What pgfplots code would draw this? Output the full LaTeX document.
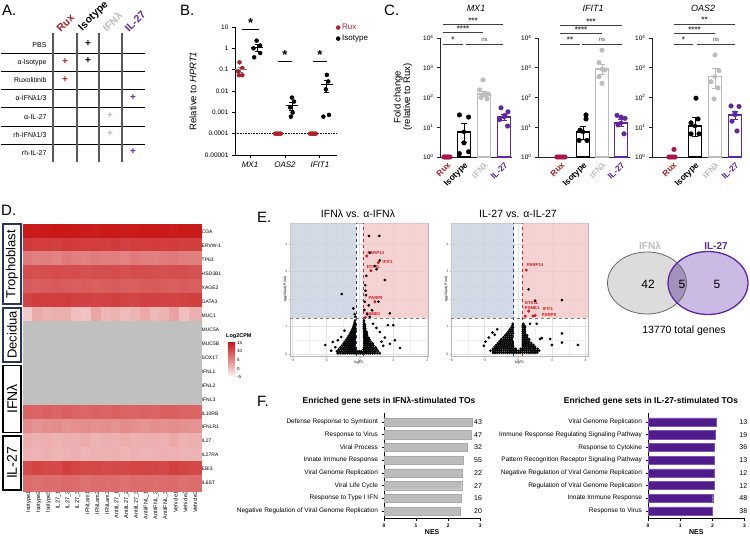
\documentclass[border=0pt]{standalone}
\usepackage{pgfplots}
\usepackage{pgfplotstable}
\pgfplotsset{compat=1.18}
\usepackage{fontspec}
\setmainfont{Liberation Sans}
\newcommand\fsz[1]{\fontsize{#1}{#1}\selectfont}

\definecolor{rux}{RGB}{178,30,40}
\definecolor{ruxc}{RGB}{168,22,72}
\definecolor{ifn}{RGB}{188,188,188}
\definecolor{ilp}{RGB}{95,40,160}
\definecolor{ilbar}{RGB}{80,28,140}
\definecolor{navy}{RGB}{40,52,88}
\definecolor{vblue}{RGB}{200,209,224}
\definecolor{vred}{RGB}{243,200,200}
\definecolor{dblue}{RGB}{40,70,150}
\definecolor{dred}{RGB}{215,35,35}
\definecolor{gene}{RGB}{205,25,25}
\definecolor{vgrey}{RGB}{220,220,220}
\definecolor{vpurp}{RGB}{202,186,228}
\definecolor{vover}{RGB}{163,146,188}

% log2 CPM per gene (rows) and sample (columns); -20 marks genes not detected
\pgfplotstableread{
c0 c1 c2 c3 c4 c5 c6 c7 c8 c9 c10 c11 c12 c13 c14 c15 c16 c17
14.6 14.3 14.5 14.8 14.7 14.6 14.4 14.2 14.5 14.6 14.3 14.4 14.7 14.5 14.6 14.3 14.5 14.4
11.8 11.5 11.6 11.3 11.9 11.7 11.4 11.6 11.5 11.8 11.2 11.6 11.5 11.7 11.4 11.6 11.3 11.5
6.3 5.8 6.1 5.5 6.4 6.0 5.7 6.2 5.9 6.1 5.6 6.3 6.0 5.8 6.2 6.5 5.9 6.0
10.2 9.9 10.1 10.3 10.0 10.2 9.8 10.1 10.0 10.3 9.9 10.2 10.1 10.0 9.9 10.2 10.1 9.8
9.0 8.7 8.9 9.1 8.8 8.6 8.9 8.5 8.8 9.0 8.7 8.6 8.9 9.1 8.8 8.7 8.9 8.6
11.0 11.6 11.4 11.5 11.7 11.2 11.1 10.9 11.0 11.3 11.0 10.8 11.1 11.2 11.0 10.9 11.1 11.3
-0.5 2.2 1.5 1.8 2.0 0.5 0.2 2.6 1.2 1.6 0.8 1.4 2.3 1.0 1.5 3.0 0.4 1.9
-20 -20 -20 -20 -20 -20 -20 -20 -20 -20 -20 -20 -20 -20 -20 -20 -20 -20
-20 -20 -20 -20 -20 -20 -20 -20 -20 -20 -20 -20 -20 -20 -20 -20 -20 -20
-20 -20 -20 -20 -20 -20 -20 -20 -20 -20 -20 -20 -20 -20 -20 -20 -20 -20
-20 -20 -20 -20 -20 -20 -20 -20 -20 -20 -20 -20 -20 -20 -20 -20 -20 -20
-20 -20 -20 -20 -20 -20 -20 -20 -20 -20 -20 -20 -20 -20 -20 -20 -20 -20
-20 -20 -20 -20 -20 -20 -20 -20 -20 -20 -20 -20 -20 -20 -20 -20 -20 -20
8.4 8.2 8.5 8.1 8.6 8.3 8.0 8.4 8.2 8.5 8.3 8.1 8.4 8.2 8.6 8.5 8.3 8.2
4.8 4.3 4.6 4.9 4.2 4.5 4.7 4.4 4.6 4.3 4.8 4.5 4.2 4.6 4.4 4.7 4.5 4.3
2.0 1.6 1.9 1.5 1.8 1.7 2.1 1.4 1.8 1.6 2.0 1.5 1.7 1.9 1.6 2.3 1.5 1.8
1.6 1.4 1.7 1.3 1.5 1.8 1.4 1.6 1.5 1.7 1.3 1.6 1.4 1.5 1.7 1.6 1.4 1.5
10.4 10.9 10.6 10.5 11.4 10.8 10.6 10.7 10.4 10.5 10.6 10.8 10.9 10.7 10.5 11.3 10.8 10.6
7.6 7.2 7.5 7.3 7.8 7.4 7.1 7.5 7.3 7.6 7.2 7.4 7.5 7.3 7.6 7.7 7.2 7.4
}\heatdata

\begin{document}
\begin{tikzpicture}
\path[use as bounding box] (0pt,0pt) rectangle (750pt,-539pt);

% ---------------- A: treatment layout ----------------
\begin{scope}[x=1pt,y=-1pt]
\node[anchor=north west, font=\fsz{15}, inner sep=0] at (2,5) {A.};
\foreach \yy in {53,71,89,107,126,144} \draw[line width=0.7pt] (1,\yy) -- (145,\yy);
\foreach \xx in {53,77,99,122} \draw[line width=1.2pt, black!65] (\xx,33) -- (\xx,162);
\node[anchor=east, font=\fsz{7}] at (50,45) {PBS};
\node[anchor=east, font=\fsz{7}] at (50,63) {α-Isotype};
\node[anchor=east, font=\fsz{7}] at (50,80) {Ruxolitinib};
\node[anchor=east, font=\fsz{7}] at (50,98) {α-IFNλ1/3};
\node[anchor=east, font=\fsz{7}] at (50,117) {α-IL-27};
\node[anchor=east, font=\fsz{7}] at (50,135) {rh-IFNλ1/3};
\node[anchor=east, font=\fsz{7}] at (50,153) {rh-IL-27};
\node[rotate=45, anchor=south west, font=\fsz{10.5}\bfseries, text=rux, inner sep=0] at (61,33) {Rux};
\node[rotate=45, anchor=south west, font=\fsz{10.5}\bfseries, inner sep=0] at (84,33) {Isotype};
\node[rotate=45, anchor=south west, font=\fsz{10.5}\bfseries, text=ifn, inner sep=0] at (107,33) {IFNλ};
\node[rotate=45, anchor=south west, font=\fsz{10.5}\bfseries, text=ilp, inner sep=0] at (129,33) {IL-27};
\foreach \xx/\yy/\cc in {88/44/black, 65/62/rux, 88/61/black, 65/80/rux, 133/98/ilp, 110/116/ifn, 110/134/ifn, 133/152/ilp}
  \node[font=\fsz{10}\bfseries, text=\cc, inner sep=0] at (\xx,\yy) {+};

% panel letters
\node[anchor=north west, font=\fsz{15}, inner sep=0] at (180,5) {B.};
\node[anchor=north west, font=\fsz{15}, inner sep=0] at (384,5) {C.};
\node[anchor=north west, font=\fsz{15}, inner sep=0] at (1,205) {D.};
\node[anchor=north west, font=\fsz{15}, inner sep=0] at (257,212) {E.};
\node[anchor=north west, font=\fsz{15}, inner sep=0] at (257,396) {F.};

% axis titles set outside the axes
\node[rotate=90, font=\fsz{9.5}] at (193,91) {Relative to \textit{HPRT1}};
\node[rotate=90, font=\fsz{9.5}, align=center] at (403,97) {Fold change\\(relative to Rux)};
\node[font=\fsz{9}\itshape] at (476,8) {MX1};
\node[font=\fsz{9}\itshape] at (593,8) {IFIT1};
\node[font=\fsz{9}\itshape] at (703,8) {OAS2};
\node[font=\fsz{10.5}] at (358,214) {IFNλ vs. α-IFNλ};
\node[font=\fsz{10.5}] at (518,214) {IL-27 vs. α-IL-27};
\node[font=\fsz{8.5}\bfseries] at (389,401) {Enriched gene sets in IFNλ-stimulated TOs};
\node[font=\fsz{8.5}\bfseries] at (651,401) {Enriched gene sets in IL-27-stimulated TOs};

% D: group boxes
\node[draw=navy, line width=1.3pt, minimum width=18pt, minimum height=80pt, inner sep=0] at (12,264) {};
\node[rotate=90, font=\fsz{13}] at (12,264) {Trophoblast};
\node[draw=navy, line width=1.3pt, minimum width=18pt, minimum height=54pt, inner sep=0] at (12,335) {};
\node[rotate=90, font=\fsz{13}] at (12,335) {Decidua};
\node[draw=black, line width=1.3pt, minimum width=18pt, minimum height=67pt, inner sep=0] at (12,399) {};
\node[rotate=90, font=\fsz{14}] at (12,399) {IFNλ};
\node[draw=black, line width=1.3pt, minimum width=18pt, minimum height=54pt, inner sep=0] at (12,463) {};
\node[rotate=90, font=\fsz{14}] at (12,463) {IL-27};

% D: colour key
\node[anchor=west, font=\fsz{5.5}\bfseries, inner sep=0] at (226,336) {Log2CPM};
\shade[bottom color=white, top color={rgb,255:red,200;green,20;blue,20}] (228,342) rectangle (235,378);
\foreach \vv/\yy in {15/343,10/351,5/360,0/369,-5/377}
  \node[anchor=west, font=\fsz{4.5}, inner sep=0] at (237,\yy) {\vv};

% E: Venn diagram of responsive genes
\fill[vgrey] (647,283) ellipse (39.5pt and 31pt);
\fill[vpurp] (708,283) ellipse (40pt and 31.5pt);
\begin{scope}
  \clip (647,283) ellipse (39.5pt and 31pt);
  \fill[vover] (708,283) ellipse (40pt and 31.5pt);
\end{scope}
\draw[gray!80!black, line width=0.8pt] (647,283) ellipse (39.5pt and 31pt);
\draw[ilp, line width=1.3pt] (708,283) ellipse (40pt and 31.5pt);
\node[font=\fsz{12}] at (648,284) {42};
\node[font=\fsz{12}] at (682,284) {5};
\node[font=\fsz{12}] at (717,284) {5};
\node[font=\fsz{10}\bfseries, text=ifn] at (650,246) {IFNλ};
\node[font=\fsz{10}\bfseries, text=ilp] at (716,246) {IL-27};
\node[font=\fsz{10.5}] at (684,331) {13770 total genes};
\end{scope}

% ---------------- B: qPCR ----------------
\begin{axis}[at={(235pt,-155pt)}, anchor=south west, scale only axis, width=102pt, height=128pt,
  ymode=log, ymin=1e-5, ymax=10, xmin=-0.43, xmax=2.49,
  axis x line*=bottom, axis y line*=left, axis line style={line width=0.9pt},
  xtick={0,1,2}, xticklabels={MX1,OAS2,IFIT1}, xticklabel style={font=\fsz{8}\itshape},
  ytick={1e-5,1e-4,1e-3,1e-2,1e-1,1,10}, yticklabels={0.00001,0.0001,0.001,0.01,0.1,1,10},
  yticklabel style={font=\fsz{6.5}}, yminorticks=false,
  tick align=outside, major tick length=3pt, tick style={line width=0.8pt, black},
  legend style={at={(axis description cs:0.99,1.04)}, anchor=north west, draw=none, fill=none,
    font=\fsz{8}, inner sep=0pt, row sep=0pt}, legend cell align=left,
  clip=false]
\addplot[only marks, mark=*, mark size=2pt, rux] coordinates {(-0.3,0.22) (-0.22,0.12) (-0.34,0.085) (-0.32,0.055) (-0.22,0.055)};
\addlegendentry{\textcolor{rux}{Rux}}
\addplot[only marks, mark=*, mark size=2pt, black] coordinates {(0.19,2.3) (0.29,1.35) (0.1,1.0) (0.29,0.6) (0.12,0.38)};
\addlegendentry{Isotype}
\addplot[densely dotted, line width=0.6pt, forget plot] coordinates {(-0.43,1e-4) (2.49,1e-4)};
\addplot[only marks, mark=*, mark size=2pt, rux, forget plot] coordinates {(0.72,1e-4) (0.76,1e-4) (0.8,1e-4) (0.84,1e-4) (0.88,1e-4)};
\addplot[only marks, mark=*, mark size=2pt, rux, forget plot] coordinates {(1.72,1e-4) (1.76,1e-4) (1.8,1e-4) (1.84,1e-4) (1.88,1e-4)};
\addplot[only marks, mark=*, mark size=2pt, black, forget plot] coordinates {(1.2,0.0049) (1.26,0.0032) (1.15,0.0017) (1.22,0.00097) (1.17,0.00063)};
\addplot[only marks, mark=*, mark size=2pt, black, forget plot] coordinates {(2.2,0.057) (2.24,0.028) (2.17,0.012) (2.1,0.00063) (2.26,0.00076)};
\addplot[only marks, mark=-, mark size=6pt, gray, line width=0.9pt, forget plot, error bars/.cd, y dir=both, y explicit,
  error bar style={gray, line width=0.8pt}, error mark options={rotate=90, mark size=2.5pt, gray, line width=0.8pt}]
  coordinates {(-0.27,0.1) += (0,0.03) -= (0,0.025)};
\addplot[only marks, mark=-, mark size=6pt, black, line width=0.9pt, forget plot, error bars/.cd, y dir=both, y explicit,
  error bar style={black, line width=0.8pt}, error mark options={rotate=90, mark size=2.5pt, black, line width=0.8pt}]
  coordinates {(0.2,1.1) += (0,0.4) -= (0,0.35) (1.2,0.002) += (0,0.0008) -= (0,0.0007) (2.2,0.0197) += (0,0.011) -= (0,0.011)};
\draw[line width=0.8pt] (axis cs:-0.22,8) -- (axis cs:0.25,8) node[midway, above=-2pt, font=\fsz{13}\bfseries] {*};
\draw[line width=0.8pt] (axis cs:0.8,0.24) -- (axis cs:1.2,0.24) node[midway, above=-2pt, font=\fsz{13}\bfseries] {*};
\draw[line width=0.8pt] (axis cs:1.8,0.24) -- (axis cs:2.2,0.24) node[midway, above=-2pt, font=\fsz{13}\bfseries] {*};
\end{axis}

% ---------------- C: MX1 ----------------
\begin{axis}[at={(440pt,-157pt)}, anchor=south west, width=72pt, xmin=0, xmax=3.6, xtick={0.35,1.2,2.2,3.2},
  scale only axis, height=119pt, ymode=log, ymin=1, ymax=10000,
  ytick={1,10,100,1000,10000},
  yticklabels={10\textsuperscript{0},10\textsuperscript{1},10\textsuperscript{2},10\textsuperscript{3},10\textsuperscript{4}},
  yminorticks=false, axis x line*=bottom, axis y line*=left,
  axis line style={line width=0.9pt, black!85}, ytick style={line width=0.8pt, black!85},
  tick align=outside, major tick length=3pt, xtick style={draw=none},
  xticklabels={\textcolor{rux}{Rux},Isotype,\textcolor{ifn}{IFNλ},\textcolor{ilp}{IL-27}},
  xticklabel style={rotate=45, anchor=north east, font=\fsz{8.5}\bfseries, inner sep=1pt},
  yticklabel style={font=\fsz{6.5}}, clip=false]
\addplot[ybar, bar width=13pt, bar shift=0pt, fill=white, draw=black, line width=1.3pt] coordinates {(1.2,7)};
\addplot[ybar, bar width=13pt, bar shift=0pt, fill=white, draw=ifn, line width=1.3pt] coordinates {(2.2,130)};
\addplot[ybar, bar width=13pt, bar shift=0pt, fill=white, draw=ilp, line width=1.3pt] coordinates {(3.2,22)};
\addplot[only marks, mark=*, mark size=2.3pt, ruxc] coordinates {(0.2,1) (0.28,1) (0.35,1) (0.42,1) (0.5,1)};
\addplot[only marks, mark=*, mark size=2.3pt, black] coordinates {(0.97,26) (1.43,22) (0.97,1.3) (1.43,1.5) (1.2,3)};
\addplot[only marks, mark=*, mark size=2.3pt, ifn] coordinates {(2.15,390) (1.98,180) (2.4,130) (2.05,100) (2.35,90)};
\addplot[only marks, mark=*, mark size=2.3pt, ilp] coordinates {(3.05,45) (3.4,33) (3.25,25) (2.98,18) (3.38,11)};
\addplot[only marks, mark=none, black, error bars/.cd, y dir=both, y explicit, error bar style={line width=0.8pt, black}, error mark options={rotate=90, mark size=3pt, line width=0.8pt, black}] coordinates {(1.2,7) += (0,6) -= (0,4)};
\addplot[only marks, mark=none, ifn, error bars/.cd, y dir=both, y explicit, error bar style={line width=0.8pt, ifn}, error mark options={rotate=90, mark size=3pt, line width=0.8pt, ifn}] coordinates {(2.2,130) += (0,35) -= (0,25)};
\addplot[only marks, mark=none, ilp, error bars/.cd, y dir=both, y explicit, error bar style={line width=0.8pt, ilp}, error mark options={rotate=90, mark size=3pt, line width=0.8pt, ilp}] coordinates {(3.2,22) += (0,6) -= (0,5)};
\draw[line width=0.9pt, black!75] (axis cs:0.15,27500) -- (axis cs:3.15,27500) node[midway, above=-2.5pt, font=\fsz{8}\bfseries] {***};
\draw[line width=0.9pt, black!75] (axis cs:0.15,14800) -- (axis cs:2.15,14800) node[midway, above=-2.5pt, font=\fsz{8}\bfseries] {****};
\draw[line width=0.9pt, black!75] (axis cs:0.15,6300) -- (axis cs:1.15,6300) node[midway, above=-2.5pt, font=\fsz{8}\bfseries] {*};
\draw[line width=0.9pt, black!75] (axis cs:1.3,6300) -- (axis cs:3.15,6300) node[midway, above=-1pt, font=\fsz{6}] {ns};
\end{axis}

% ---------------- C: IFIT1 ----------------
\begin{axis}[at={(538pt,-157pt)}, anchor=south west, width=92pt, xmin=0, xmax=4.6, xtick={1.15,2.25,3.2,4.15},
  scale only axis, height=119pt, ymode=log, ymin=1, ymax=10000,
  ytick={1,10,100,1000,10000},
  yticklabels={10\textsuperscript{0},10\textsuperscript{1},10\textsuperscript{2},10\textsuperscript{3},10\textsuperscript{4}},
  yminorticks=false, axis x line*=bottom, axis y line*=left,
  axis line style={line width=0.9pt, black!85}, ytick style={line width=0.8pt, black!85},
  tick align=outside, major tick length=3pt, xtick style={draw=none},
  xticklabels={\textcolor{rux}{Rux},Isotype,\textcolor{ifn}{IFNλ},\textcolor{ilp}{IL-27}},
  xticklabel style={rotate=45, anchor=north east, font=\fsz{8.5}\bfseries, inner sep=1pt},
  yticklabel style={font=\fsz{6.5}}, clip=false]
\addplot[ybar, bar width=13pt, bar shift=0pt, fill=white, draw=black, line width=1.3pt] coordinates {(2.25,7)};
\addplot[ybar, bar width=13pt, bar shift=0pt, fill=white, draw=ifn, line width=1.3pt] coordinates {(3.2,900)};
\addplot[ybar, bar width=13pt, bar shift=0pt, fill=white, draw=ilp, line width=1.3pt] coordinates {(4.15,14)};
\addplot[only marks, mark=*, mark size=2.3pt, ruxc] coordinates {(0.95,1) (1.05,1) (1.15,1) (1.25,1) (1.35,1)};
\addplot[only marks, mark=*, mark size=2.3pt, black] coordinates {(2.4,26) (2.4,19) (2.1,8) (2.05,3.6) (2.45,3.6)};
\addplot[only marks, mark=*, mark size=2.3pt, ifn] coordinates {(3.2,3900) (3.05,1500) (3.35,850) (3.05,500) (3.2,300)};
\addplot[only marks, mark=*, mark size=2.3pt, ilp] coordinates {(3.95,25) (4.15,22) (4.35,20) (4.0,12) (4.3,6)};
\addplot[only marks, mark=none, black, error bars/.cd, y dir=both, y explicit, error bar style={line width=0.8pt, black}, error mark options={rotate=90, mark size=3pt, line width=0.8pt, black}] coordinates {(2.25,7) += (0,4) -= (0,3)};
\addplot[only marks, mark=none, ifn, error bars/.cd, y dir=both, y explicit, error bar style={line width=0.8pt, ifn}, error mark options={rotate=90, mark size=3pt, line width=0.8pt, ifn}] coordinates {(3.2,900) += (0,350) -= (0,300)};
\addplot[only marks, mark=none, ilp, error bars/.cd, y dir=both, y explicit, error bar style={line width=0.8pt, ilp}, error mark options={rotate=90, mark size=3pt, line width=0.8pt, ilp}] coordinates {(4.15,14) += (0,4) -= (0,3)};
\draw[line width=0.9pt, black!75] (axis cs:1.1,26000) -- (axis cs:4.2,26000) node[midway, above=-2.5pt, font=\fsz{8}\bfseries] {***};
\draw[line width=0.9pt, black!75] (axis cs:1.1,14000) -- (axis cs:3.2,14000) node[midway, above=-2.5pt, font=\fsz{8}\bfseries] {****};
\draw[line width=0.9pt, black!75] (axis cs:1.1,6300) -- (axis cs:2.1,6300) node[midway, above=-2.5pt, font=\fsz{8}\bfseries] {**};
\draw[line width=0.9pt, black!75] (axis cs:2.2,6300) -- (axis cs:4.2,6300) node[midway, above=-1pt, font=\fsz{6}] {ns};
\end{axis}

% ---------------- C: OAS2 ----------------
\begin{axis}[at={(652pt,-157pt)}, anchor=south west, width=90pt, xmin=0, xmax=4.5, xtick={1.05,2.15,3.15,4.15},
  scale only axis, height=119pt, ymode=log, ymin=1, ymax=10000,
  ytick={1,10,100,1000,10000},
  yticklabels={10\textsuperscript{0},10\textsuperscript{1},10\textsuperscript{2},10\textsuperscript{3},10\textsuperscript{4}},
  yminorticks=false, axis x line*=bottom, axis y line*=left,
  axis line style={line width=0.9pt, black!85}, ytick style={line width=0.8pt, black!85},
  tick align=outside, major tick length=3pt, xtick style={draw=none},
  xticklabels={\textcolor{rux}{Rux},Isotype,\textcolor{ifn}{IFNλ},\textcolor{ilp}{IL-27}},
  xticklabel style={rotate=45, anchor=north east, font=\fsz{8.5}\bfseries, inner sep=1pt},
  yticklabel style={font=\fsz{6.5}}, clip=false]
\addplot[ybar, bar width=13pt, bar shift=0pt, fill=white, draw=black, line width=1.3pt] coordinates {(2.15,11)};
\addplot[ybar, bar width=13pt, bar shift=0pt, fill=white, draw=ifn, line width=1.3pt] coordinates {(3.15,500)};
\addplot[ybar, bar width=13pt, bar shift=0pt, fill=white, draw=ilp, line width=1.3pt] coordinates {(4.15,26)};
\addplot[only marks, mark=*, mark size=2.3pt, ruxc] coordinates {(0.85,1) (0.95,1) (1.05,1) (1.15,1) (1.1,1.8)};
\addplot[only marks, mark=*, mark size=2.3pt, black] coordinates {(2.2,95) (2.3,19) (1.95,14) (1.95,6) (2.35,6)};
\addplot[only marks, mark=*, mark size=2.3pt, ifn] coordinates {(3.15,2700) (3.35,800) (2.95,340) (3.3,210) (3.1,90)};
\addplot[only marks, mark=*, mark size=2.3pt, ilp] coordinates {(3.95,52) (4.35,50) (4.15,30) (4.0,16) (4.25,7.5)};
\addplot[only marks, mark=none, black, error bars/.cd, y dir=both, y explicit, error bar style={line width=0.8pt, black}, error mark options={rotate=90, mark size=3pt, line width=0.8pt, black}] coordinates {(2.15,11) += (0,11) -= (0,6)};
\addplot[only marks, mark=none, ifn, error bars/.cd, y dir=both, y explicit, error bar style={line width=0.8pt, ifn}, error mark options={rotate=90, mark size=3pt, line width=0.8pt, ifn}] coordinates {(3.15,500) += (0,450) -= (0,300)};
\addplot[only marks, mark=none, ilp, error bars/.cd, y dir=both, y explicit, error bar style={line width=0.8pt, ilp}, error mark options={rotate=90, mark size=3pt, line width=0.8pt, ilp}] coordinates {(4.15,26) += (0,8) -= (0,8)};
\draw[line width=0.9pt, black!75] (axis cs:1.1,29000) -- (axis cs:4.15,29000) node[midway, above=-2.5pt, font=\fsz{8}\bfseries] {**};
\draw[line width=0.9pt, black!75] (axis cs:1.1,14000) -- (axis cs:3.15,14000) node[midway, above=-2.5pt, font=\fsz{8}\bfseries] {****};
\draw[line width=0.9pt, black!75] (axis cs:1.1,6300) -- (axis cs:2.05,6300) node[midway, above=-2.5pt, font=\fsz{8}\bfseries] {*};
\draw[line width=0.9pt, black!75] (axis cs:2.25,6300) -- (axis cs:4.15,6300) node[midway, above=-1pt, font=\fsz{6}] {ns};
\end{axis}

% ---------------- D: heatmap ----------------
\begin{axis}[at={(24pt,-490pt)}, anchor=south west, scale only axis, width=176pt, height=265pt,
  xmin=-0.5, xmax=17.5, ymin=-0.5, ymax=18.5, y dir=reverse, clip=true,
  axis line style={draw=none}, tick style={draw=none},
  xtick={0,...,17},
  xticklabels={Isotype1,Isotype2,Isotype3,IL27\_1,IL27\_2,IL27\_3,IFNLam1,IFNLam2,IFNLam3,AntiIL27\_1,AntiIL27\_2,AntiIL27\_3,AntiIFNL\_1,AntiIFNL\_2,AntiIFNL\_3,Vehicle1,Vehicle2,Vehicle3},
  xticklabel style={rotate=90, anchor=east, font=\fsz{5.5}, inner sep=1.5pt},
  ytick={0,...,18},
  yticklabels={CGA,ERVW-1,TP63,HSD3B1,XAGE2,GATA3,MUC1,MUC5A,MUC5B,SOX17,IFNL1,IFNL2,IFNL3,IL10RB,IFNLR1,IL27,IL27RA,EBI3,IL6ST},
  yticklabel pos=right, yticklabel style={anchor=west, font=\fsz{5}, inner sep=1.5pt},
  colormap={heat}{rgb255(0cm)=(192,192,192) rgb255(14.9cm)=(192,192,192) rgb255(15cm)=(255,255,255) rgb255(35cm)=(200,20,20)},
  point meta min=-20, point meta max=15]
\pgfplotsinvokeforeach{0,...,17}{
  \addplot[scatter, only marks, mark=square*, mark size=6pt, mark options={yscale=1.35, line width=0.6pt},
    scatter/use mapped color={draw=mapped color, fill=mapped color},
    point meta=explicit] table[x expr=#1, y expr=\coordindex, meta index=#1] {\heatdata};
}
\draw[white, line width=2.2pt] (axis cs:-0.5,5.5) -- (axis cs:17.5,5.5);
\draw[white, line width=2.2pt] (axis cs:-0.5,9.5) -- (axis cs:17.5,9.5);
\draw[white, line width=2.2pt] (axis cs:-0.5,14.5) -- (axis cs:17.5,14.5);
\end{axis}

% ---------------- E: volcano, IFN-lambda ----------------
\begin{axis}[at={(290pt,-356pt)}, anchor=south west, width=138pt, height=133pt,
  xmin=-4.15, xmax=4.07, xtick={-4,-2,0,2,4}, xticklabels={−4,−2,0,2,4},
  scale only axis, ymin=-0.07, ymax=4.76, ytick={0,1,2,3,4}, yticklabels={0,1,2,3,4},
  grid=both, minor tick num=1, minor tick length=0pt, major tick length=1.5pt, tick align=outside,
  tick pos=left, major grid style={gray!22, line width=0.35pt}, minor grid style={gray!12, line width=0.25pt},
  axis line style={gray!55, line width=0.4pt}, tick style={gray!55, line width=0.3pt},
  ticklabel style={font=\fsz{3.5}, text=gray!60!black, inner sep=1pt},
  xlabel={logFC}, ylabel={-log10(adj.P.Val)}, label style={font=\fsz{3.5}},
  xlabel style={yshift=5pt}, ylabel style={yshift=-6pt}]
\addplot[draw=none, fill=vblue, fill opacity=0.8] coordinates {(-4.15,1.3) (-0.22,1.3) (-0.22,4.76) (-4.15,4.76)} -- cycle;
\addplot[draw=none, fill=vred, fill opacity=0.8] coordinates {(0.22,1.3) (4.07,1.3) (4.07,4.76) (0.22,4.76)} -- cycle;
\addplot[dashed, gray, line width=0.6pt] coordinates {(-4.15,1.3) (4.07,1.3)};
\addplot[only marks, mark=*, mark size=1.15pt, black] coordinates {
(-1.3,0.03) (-1.15,0.03) (-1.0,0.03) (-0.87,0.03) (-0.74,0.03) (-0.62,0.03) (-0.5,0.03) (-0.38,0.03) (-0.27,0.03) (-0.16,0.03) (-0.05,0.03) (0.06,0.03) (0.17,0.03) (0.28,0.03) (0.4,0.03) (0.52,0.03) (0.64,0.03) (0.77,0.03) (0.9,0.03) (1.05,0.03) (1.2,0.03)
(-1.35,0.1) (-1.2,0.1) (-1.06,0.1) (-0.93,0.1) (-0.8,0.1) (-0.68,0.1) (-0.56,0.1) (-0.45,0.1) (-0.34,0.1) (-0.24,0.1) (-0.13,0.1) (-0.02,0.1) (0.09,0.1) (0.24,0.1) (0.34,0.1) (0.45,0.1) (0.56,0.1) (0.68,0.1) (0.8,0.1) (0.93,0.1) (1.1,0.1)
(-1.25,0.17) (-1.1,0.17) (-0.97,0.17) (-0.85,0.17) (-0.73,0.17) (-0.62,0.17) (-0.51,0.17) (-0.41,0.17) (-0.31,0.17) (-0.23,0.17) (0.23,0.17) (0.31,0.17) (0.41,0.17) (0.51,0.17) (0.62,0.17) (0.74,0.17) (0.87,0.17) (1.02,0.17)
(-1.15,0.24) (-1.0,0.24) (-0.88,0.24) (-0.76,0.24) (-0.65,0.24) (-0.55,0.24) (-0.45,0.24) (-0.36,0.24) (-0.27,0.24) (0.26,0.24) (0.35,0.24) (0.45,0.24) (0.56,0.24) (0.67,0.24) (0.8,0.24) (0.95,0.24)
(-1.05,0.31) (-0.92,0.31) (-0.8,0.31) (-0.69,0.31) (-0.59,0.31) (-0.49,0.31) (-0.4,0.31) (-0.31,0.31) (0.27,0.31) (0.36,0.31) (0.46,0.31) (0.57,0.31) (0.69,0.31) (0.83,0.31)
(-0.95,0.38) (-0.83,0.38) (-0.72,0.38) (-0.62,0.38) (-0.52,0.38) (-0.43,0.38) (-0.34,0.38) (-0.27,0.38) (0.27,0.38) (0.35,0.38) (0.44,0.38) (0.54,0.38) (0.65,0.38) (0.78,0.38)
(-0.88,0.45) (-0.76,0.45) (-0.65,0.45) (-0.55,0.45) (-0.46,0.45) (-0.37,0.45) (-0.29,0.45) (0.27,0.45) (0.35,0.45) (0.44,0.45) (0.54,0.45) (0.66,0.45)
(-0.8,0.52) (-0.68,0.52) (-0.58,0.52) (-0.48,0.52) (-0.39,0.52) (-0.3,0.52) (0.27,0.52) (0.36,0.52) (0.46,0.52) (0.58,0.52)
(-0.72,0.59) (-0.61,0.59) (-0.51,0.59) (-0.42,0.59) (-0.33,0.59) (-0.26,0.59) (0.26,0.59) (0.34,0.59) (0.43,0.59) (0.54,0.59)
(-0.65,0.66) (-0.55,0.66) (-0.45,0.66) (-0.36,0.66) (-0.28,0.66) (0.26,0.66) (0.34,0.66) (0.44,0.66)
(-0.58,0.73) (-0.48,0.73) (-0.39,0.73) (-0.3,0.73) (0.26,0.73) (0.34,0.73) (0.43,0.73)
(-0.52,0.8) (-0.42,0.8) (-0.33,0.8) (-0.26,0.8) (0.26,0.8) (0.34,0.8) (0.42,0.8)
(-0.46,0.87) (-0.37,0.87) (-0.29,0.87) (0.26,0.87) (0.33,0.87)
(-0.41,0.94) (-0.32,0.94) (-0.25,0.94) (0.25,0.94) (0.33,0.94)
(-0.37,1.01) (-0.28,1.01) (0.25,1.01) (0.32,1.01)
(-0.33,1.08) (-0.26,1.08) (0.25,1.08) (0.31,1.08)
(-0.3,1.15) (0.25,1.15) (-0.28,1.22) (0.26,1.22)
(-2.05,0.33) (-1.6,0.44) (-1.45,0.25) (-1.7,0.12) (-1.3,0.5) (-1.1,0.62) (1.68,1.05) (2.0,1.05) (2.4,0.22)
(1.5,0.6) (1.3,0.45) (1.8,0.37) (1.2,0.8) (1.0,0.95) (1.4,0.3) (2.1,0.5) (0.8,1.1) (-0.9,0.85)
(-1.07,2.18) (-0.38,1.66) (-0.3,1.45) (-0.26,1.36) (0.28,1.6) (0.3,1.9) (0.45,1.45) (0.6,1.35)
(0.54,1.77) (0.74,1.59) (1.12,1.9) (1.8,1.48) (0.38,2.14) (0.4,2.84) (0.33,2.5) (1.5,2.69)
(1.01,3.08) (1.2,3.4) (0.61,3.68) (0.55,4.29) (1.17,4.29) (0.9,3.2) (0.35,2.3)};
\addplot[dashed, dblue, line width=0.7pt] coordinates {(-0.22,-0.07) (-0.22,4.76)};
\addplot[dashed, dred, line width=0.7pt] coordinates {(0.22,-0.07) (0.22,4.76)};
\addplot[only marks, mark=*, mark size=1.3pt, gene] coordinates {(0.42,3.56) (1.11,3.32) (0.67,3.03) (0.91,1.9) (0.34,1.33)};
\node[anchor=west, font=\fsz{4.3}\bfseries, text=gene, inner sep=0.5pt] at (axis cs:0.43,3.67) {PARP14};
\node[anchor=west, font=\fsz{4.3}\bfseries, text=gene, inner sep=0.5pt] at (axis cs:1.33,3.35) {IFIT1};
\node[anchor=west, font=\fsz{4.3}\bfseries, text=gene, inner sep=0.5pt] at (axis cs:0.38,3.16) {DTX3L};
\node[anchor=west, font=\fsz{4.3}\bfseries, text=gene, inner sep=0.5pt] at (axis cs:0.49,2.04) {PARP9};
\node[anchor=west, font=\fsz{4.3}\bfseries, text=gene, inner sep=0.5pt] at (axis cs:0.32,1.45) {PSME1};
\end{axis}

% ---------------- E: volcano, IL-27 ----------------
\begin{axis}[at={(451pt,-356pt)}, anchor=south west, width=137pt, height=133pt,
  xmin=-8.0, xmax=8.3, xtick={-8,-4,0,4,8}, xticklabels={−8,−4,0,4,8},
  scale only axis, ymin=-0.07, ymax=4.76, ytick={0,1,2,3,4}, yticklabels={0,1,2,3,4},
  grid=both, minor tick num=1, minor tick length=0pt, major tick length=1.5pt, tick align=outside,
  tick pos=left, major grid style={gray!22, line width=0.35pt}, minor grid style={gray!12, line width=0.25pt},
  axis line style={gray!55, line width=0.4pt}, tick style={gray!55, line width=0.3pt},
  ticklabel style={font=\fsz{3.5}, text=gray!60!black, inner sep=1pt},
  xlabel={logFC}, ylabel={-log10(adj.P.Val)}, label style={font=\fsz{3.5}},
  xlabel style={yshift=5pt}, ylabel style={yshift=-6pt}]
\addplot[draw=none, fill=vblue, fill opacity=0.8] coordinates {(-8.0,1.3) (-0.55,1.3) (-0.55,4.76) (-8.0,4.76)} -- cycle;
\addplot[draw=none, fill=vred, fill opacity=0.8] coordinates {(0.5,1.3) (8.3,1.3) (8.3,4.76) (0.5,4.76)} -- cycle;
\addplot[dashed, gray, line width=0.6pt] coordinates {(-8.0,1.3) (8.3,1.3)};
\addplot[only marks, mark=*, mark size=1.15pt, black] coordinates {
(-3.0,0.05) (-2.75,0.05) (-2.5,0.05) (-2.25,0.05) (-2.0,0.05) (-1.75,0.05) (-1.5,0.05) (-1.25,0.05) (-1.0,0.05) (-0.75,0.05) (-0.5,0.05) (-0.25,0.05) (0,0.05) (0.25,0.05) (0.5,0.05) (0.75,0.05) (1.0,0.05) (1.25,0.05) (1.5,0.05) (1.75,0.05) (2.0,0.05) (2.25,0.05)
(-3.3,0.12) (-3.0,0.12) (-2.75,0.12) (-2.5,0.12) (-2.25,0.12) (-2.0,0.12) (-1.75,0.12) (-1.5,0.12) (-1.25,0.12) (-1.0,0.12) (-0.75,0.12) (-0.5,0.12) (-0.25,0.12) (0,0.12) (0.25,0.12) (0.5,0.12) (0.75,0.12) (1.0,0.12) (1.25,0.12) (1.5,0.12) (1.75,0.12) (2.0,0.12) (2.25,0.12) (2.5,0.12)
(-3.0,0.19) (-2.75,0.19) (-2.5,0.19) (-2.25,0.19) (-2.0,0.19) (-1.75,0.19) (-1.5,0.19) (-1.25,0.19) (-1.0,0.19) (-0.75,0.19) (-0.55,0.19) (-0.3,0.19) (0.3,0.19) (0.55,0.19) (0.75,0.19) (1.0,0.19) (1.25,0.19) (1.5,0.19) (1.75,0.19) (2.0,0.19) (2.3,0.19)
(-2.8,0.26) (-2.55,0.26) (-2.3,0.26) (-2.05,0.26) (-1.8,0.26) (-1.55,0.26) (-1.3,0.26) (-1.05,0.26) (-0.8,0.26) (-0.6,0.26) (0.55,0.26) (0.78,0.26) (1.0,0.26) (1.25,0.26) (1.5,0.26) (1.75,0.26) (2.0,0.26)
(-2.6,0.33) (-2.35,0.33) (-2.1,0.33) (-1.85,0.33) (-1.6,0.33) (-1.35,0.33) (-1.1,0.33) (-0.85,0.33) (-0.62,0.33) (0.55,0.33) (0.78,0.33) (1.0,0.33) (1.25,0.33) (1.5,0.33) (1.8,0.33)
(-2.4,0.4) (-2.15,0.4) (-1.9,0.4) (-1.65,0.4) (-1.4,0.4) (-1.15,0.4) (-0.9,0.4) (-0.65,0.4) (0.55,0.4) (0.78,0.4) (1.0,0.4) (1.25,0.4) (1.55,0.4)
(-2.2,0.47) (-1.95,0.47) (-1.7,0.47) (-1.45,0.47) (-1.2,0.47) (-0.95,0.47) (-0.7,0.47) (0.55,0.47) (0.78,0.47) (1.02,0.47) (1.3,0.47)
(-2.0,0.54) (-1.75,0.54) (-1.5,0.54) (-1.25,0.54) (-1.0,0.54) (-0.75,0.54) (0.55,0.54) (0.78,0.54) (1.05,0.54) (1.3,0.54)
(-1.75,0.61) (-1.5,0.61) (-1.25,0.61) (-1.0,0.61) (-0.75,0.61) (0.55,0.61) (0.8,0.61) (1.05,0.61)
(-1.55,0.68) (-1.3,0.68) (-1.05,0.68) (-0.8,0.68) (0.55,0.68) (0.8,0.68) (1.05,0.68)
(-1.35,0.75) (-1.1,0.75) (-0.85,0.75) (-0.62,0.75) (0.55,0.75) (0.8,0.75)
(-1.15,0.82) (-0.9,0.82) (-0.65,0.82) (0.55,0.82) (0.8,0.82)
(-1.0,0.89) (-0.75,0.89) (0.55,0.89) (0.78,0.89)
(-0.85,0.96) (-0.62,0.96) (0.55,0.96) (0.75,0.96)
(-0.7,1.03) (0.55,1.03) (0.72,1.03) (-0.65,1.1) (0.6,1.1)
(-3.9,0.45) (-3.5,0.6) (-3.06,0.78) (-4.1,0.3) (-2.8,0.7) (-2.5,0.9) (2.6,0.55) (2.8,0.58) (3.8,0.55)
(4.0,0.33) (5.2,0.42) (7.1,0.33) (5.2,0.75) (0.83,0.98) (1.4,1.1) (2.2,1.1)
(1.23,2.35) (5.2,1.96) (2.0,1.94)};
\addplot[dashed, dblue, line width=0.7pt] coordinates {(-0.55,-0.07) (-0.55,4.76)};
\addplot[dashed, dred, line width=0.7pt] coordinates {(0.5,-0.07) (0.5,4.76)};
\addplot[only marks, mark=*, mark size=1.3pt, gene] coordinates {(0.95,3.05) (0.83,1.38) (1.23,1.56) (1.75,1.38) (2.0,1.40)};
\node[anchor=west, font=\fsz{4.3}\bfseries, text=gene, inner sep=0.5pt] at (axis cs:0.95,3.24) {PARP14};
\node[anchor=west, font=\fsz{4.3}\bfseries, text=gene, inner sep=0.5pt] at (axis cs:0.71,1.85) {DTX3L};
\node[anchor=west, font=\fsz{4.3}\bfseries, text=gene, inner sep=0.5pt] at (axis cs:0.71,1.67) {PSME1};
\node[anchor=west, font=\fsz{4.3}\bfseries, text=gene, inner sep=0.5pt] at (axis cs:2.86,1.64) {IFIT1};
\node[anchor=west, font=\fsz{4.3}\bfseries, text=gene, inner sep=0.5pt] at (axis cs:2.74,1.42) {PARP9};
\end{axis}

% ---------------- F: GSEA, IFN-lambda ----------------
\begin{axis}[at={(384pt,-518pt)}, anchor=south west, width=96.3pt,
  scale only axis, height=105pt, xmin=0, xmax=3, ymin=-0.55, ymax=7.71,
  axis x line*=bottom, axis y line*=left, axis line style={line width=0.8pt},
  xtick={0,1,2,3}, xticklabels={0,1,2,3}, xticklabel style={font=\fsz{5}\bfseries},
  ytick={0,...,7}, yticklabel style={font=\fsz{6.5}},
  tick align=outside, major tick length=2.5pt, tick style={line width=0.7pt, black},
  xlabel={NES}, xlabel style={font=\fsz{7}\bfseries, yshift=5pt}, clip=false,
  yticklabels={Negative Regulation of Viral Genome Replication, Response to Type I IFN, Viral Life Cycle,
    Viral Genome Replication, Innate Immune Response, Viral Process, Response to Virus, Defense Response to Symbiont}]
\addplot[xbar, bar width=8.2pt, bar shift=0pt, fill=ifn, draw=ifn!90!black, line width=0.3pt] coordinates {(2.36,0) (2.40,1) (2.42,2) (2.45,3) (2.47,4) (2.60,5) (2.73,6) (2.76,7)};
\node[font=\fsz{7}] at (axis cs:2.93,0) {20};
\node[font=\fsz{7}] at (axis cs:2.93,1) {16};
\node[font=\fsz{7}] at (axis cs:2.93,2) {27};
\node[font=\fsz{7}] at (axis cs:2.93,3) {22};
\node[font=\fsz{7}] at (axis cs:2.93,4) {55};
\node[font=\fsz{7}] at (axis cs:2.93,5) {32};
\node[font=\fsz{7}] at (axis cs:2.93,6) {47};
\node[font=\fsz{7}] at (axis cs:2.93,7) {43};
\end{axis}

% ---------------- F: GSEA, IL-27 ----------------
\begin{axis}[at={(648pt,-518pt)}, anchor=south west, width=96.6pt,
  scale only axis, height=105pt, xmin=0, xmax=3, ymin=-0.55, ymax=7.71,
  axis x line*=bottom, axis y line*=left, axis line style={line width=0.8pt},
  xtick={0,1,2,3}, xticklabels={0,1,2,3}, xticklabel style={font=\fsz{5}\bfseries},
  ytick={0,...,7}, yticklabel style={font=\fsz{6.5}},
  tick align=outside, major tick length=2.5pt, tick style={line width=0.7pt, black},
  xlabel={NES}, xlabel style={font=\fsz{7}\bfseries, yshift=5pt}, clip=false,
  yticklabels={Response to Virus, Innate Immune Response, Regulation of Viral Genome Replication,
    Negative Regulation of Viral Genome Replication, Pattern Recognition Receptor Signaling Pathway,
    Response to Cytokine, Immune Response Regulating Signaling Pathway, Viral Genome Replication}]
\addplot[xbar, bar width=8.2pt, bar shift=0pt, fill=ilbar, draw=ilp!80!white, line width=0.4pt] coordinates {(2.00,0) (2.01,1) (2.05,2) (2.05,3) (2.05,4) (2.06,5) (2.09,6) (2.12,7)};
\node[font=\fsz{7}] at (axis cs:2.96,0) {38};
\node[font=\fsz{7}] at (axis cs:2.96,1) {48};
\node[font=\fsz{7}] at (axis cs:2.96,2) {12};
\node[font=\fsz{7}] at (axis cs:2.96,3) {12};
\node[font=\fsz{7}] at (axis cs:2.96,4) {13};
\node[font=\fsz{7}] at (axis cs:2.96,5) {36};
\node[font=\fsz{7}] at (axis cs:2.96,6) {19};
\node[font=\fsz{7}] at (axis cs:2.96,7) {13};
\end{axis}
\end{tikzpicture}
\end{document}
